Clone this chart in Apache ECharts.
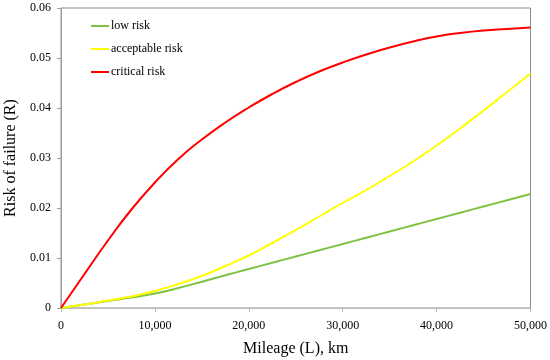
<!DOCTYPE html>
<html>
<head>
<meta charset="utf-8">
<script src="https://cdn.jsdelivr.net/npm/echarts@6/dist/echarts.min.js"></script>
<style>
html,body{margin:0;padding:0;background:#fff;}
#chart{width:550px;height:360px;}
</style>
</head>
<body>
<div id="chart"></div>
<script>
const mileage = [0,2500,5000,7500,10000,12500,15000,17500,20000,22500,25000,27500,30000,32500,35000,37500,40000,42500,45000,47500,50000];
const lowRisk = [0,0.0007,0.0014,0.0021,0.0029,0.0040,0.00525,0.00655,0.0078,0.00905,0.0103,0.01155,0.0128,0.01405,0.0153,0.01655,0.0178,0.01905,0.0203,0.02155,0.0228];
const acceptableRisk = [0,0.0007,0.0015,0.0023,0.0034,0.0048,0.0064,0.0084,0.0105,0.0130,0.0156,0.0183,0.0210,0.0236,0.0264,0.0293,0.0325,0.0359,0.0395,0.0432,0.0469];
const criticalRisk = [0,0.0068,0.0135,0.0197,0.0251,0.0298,0.0337,0.0371,0.0401,0.0428,0.0452,0.0473,0.0491,0.0507,0.0521,0.0533,0.0543,0.0550,0.0555,0.0558,0.0561];
const seriesNames = ['low risk','acceptable risk','critical risk'];
const xTicks = {min:0, max:50000, interval:10000};
const yTicks = {min:0, max:0.06, interval:0.01};

const pair = arr => mileage.map((m,i)=>[m,arr[i]]);
const font = '"Liberation Serif", "DejaVu Serif", serif';
const chart = echarts.init(document.getElementById('chart'), null, {renderer:'canvas'});
chart.setOption({
  animation:false,
  backgroundColor:'#fff',
  grid:{left:61, right:19.5, top:8, bottom:52, show:true, borderColor:'#8c8c8c', borderWidth:1,
    containLabel:false, outerBoundsMode:'none'},
  legend:{
    orient:'vertical', left:86, top:15, itemWidth:18, itemHeight:2, itemGap:11,
    icon:'rect',
    textStyle:{fontFamily:font, fontSize:12, color:'#000', padding:[0,0,0,-3]},
    data:seriesNames
  },
  xAxis:{
    type:'value', min:xTicks.min, max:xTicks.max, interval:xTicks.interval,
    name:'Mileage (L), km', nameLocation:'middle', nameGap:33,
    nameTextStyle:{fontFamily:font, fontSize:16, color:'#000'},
    axisLine:{lineStyle:{color:'#bdbdbd', width:1}},
    axisTick:{show:true, length:4, lineStyle:{color:'#bdbdbd'}},
    axisLabel:{fontFamily:font, fontSize:12, color:'#000', margin:12,
      formatter:v=>v.toLocaleString('en-US')},
    splitLine:{show:false}
  },
  yAxis:{
    type:'value', min:yTicks.min, max:yTicks.max, interval:yTicks.interval,
    name:'Risk of failure (R)', nameLocation:'middle', nameGap:36,
    nameTextStyle:{fontFamily:font, fontSize:16, color:'#000'},
    axisLine:{show:true, lineStyle:{color:'#a0a0a0', width:1}},
    axisTick:{show:true, length:4, lineStyle:{color:'#a0a0a0'}},
    axisLabel:{fontFamily:font, fontSize:12, color:'#000', margin:10,
      formatter:v=> v===0 ? '0' : v.toFixed(2)},
    splitLine:{show:false}
  },
  series:[
    {name:seriesNames[0], type:'line', data:pair(lowRisk), smooth:true, showSymbol:false, symbol:'none',
      lineStyle:{color:'#7dc243', width:2}, itemStyle:{color:'#7dc243'}},
    {name:seriesNames[1], type:'line', data:pair(acceptableRisk), smooth:true, showSymbol:false, symbol:'none',
      lineStyle:{color:'#ffff00', width:2}, itemStyle:{color:'#ffff00'}},
    {name:seriesNames[2], type:'line', data:pair(criticalRisk), smooth:true, showSymbol:false, symbol:'none',
      lineStyle:{color:'#ff0000', width:2}, itemStyle:{color:'#ff0000'}}
  ]
});
</script>
</body>
</html>
